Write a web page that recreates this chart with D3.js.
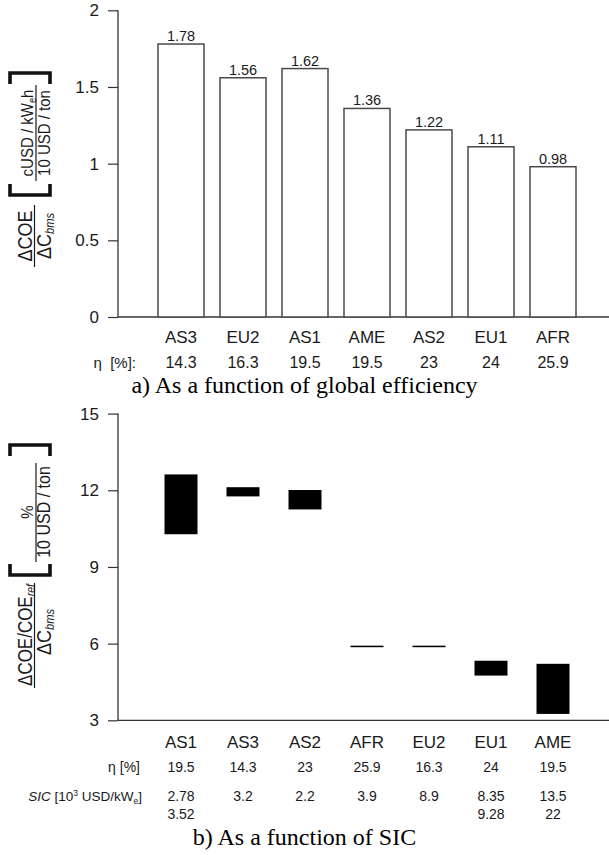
<!DOCTYPE html>
<html><head><meta charset="utf-8">
<script src="https://cdn.jsdelivr.net/npm/d3@7"></script>
<style>body{margin:0;background:#fff} svg{display:block}</style>
</head><body>
<script>
// ---- Data: chart a ----
const categoriesA = ["AS3", "EU2", "AS1", "AME", "AS2", "EU1", "AFR"];
const valuesA = [1.78, 1.56, 1.62, 1.36, 1.22, 1.11, 0.98];
const etaA = ["14.3", "16.3", "19.5", "19.5", "23", "24", "25.9"];
const ticksA = [0, 0.5, 1, 1.5, 2];
const minorTicksA = [0,0.1,0.2,0.3,0.4,0.5,0.6,0.7,0.8,0.9,1,1.1,1.2,1.3,1.4,1.5,1.6,1.7,1.8,1.9,2];
// ---- Data: chart b ----
const categoriesB = ["AS1", "AS3", "AS2", "AFR", "EU2", "EU1", "AME"];
const lowB = [10.28, 11.76, 11.25, 5.86, 5.86, 4.75, 3.25];
const highB = [12.62, 12.12, 12.01, 5.92, 5.92, 5.33, 5.21];
const etaB = ["19.5", "14.3", "23", "25.9", "16.3", "24", "19.5"];
const sicB1 = ["2.78", "3.2", "2.2", "3.9", "8.9", "8.35", "13.5"];
const sicB2 = ["3.52", "", "", "", "", "9.28", "22"];
const ticksB = [3, 6, 9, 12, 15];
const minorTicksB = [3,4,5,6,7,8,9,10,11,12,13,14,15];

const W = 609, H = 855;
const SANS = "'Liberation Sans', Arial, Helvetica, sans-serif";
const SERIF = "'Liberation Serif', 'Times New Roman', serif";
const TXT = "#1a1a1a", AX = "#333";
const svg = d3.select("body").append("svg").attr("width", W).attr("height", H)
  .style("font-family", SANS);

const axisX = 118, rightX = 609;

function drawYAxis(scale, major, minor, top, bottom) {
  const g = svg.append("g").attr("transform", `translate(${axisX},0)`);
  g.call(d3.axisLeft(scale).tickValues(minor).tickSize(5).tickFormat(""));
  g.call(d3.axisLeft(scale).tickValues(major).tickSize(10).tickPadding(9).tickFormat(d3.format("~g")));
  g.selectAll(".domain").remove();
  g.selectAll("line").attr("stroke", AX).attr("stroke-width", 1.2);
  g.selectAll("text").attr("font-family", SANS).attr("font-size", 17).attr("fill", TXT);
  g.attr("font-family", null).attr("font-size", null);
  svg.append("line").attr("x1", axisX).attr("x2", axisX).attr("y1", top).attr("y2", bottom)
    .attr("stroke", AX).attr("stroke-width", 1.3);
  svg.append("line").attr("x1", axisX).attr("x2", rightX).attr("y1", bottom).attr("y2", bottom)
    .attr("stroke", AX).attr("stroke-width", 1.3);
}

function rotText(x, y, size, parts) {
  const t = svg.append("text").attr("transform", `translate(${x},${y}) rotate(-90) scale(1,1.15)`)
    .attr("text-anchor", "middle").attr("font-size", size).attr("fill", TXT);
  parts.forEach(p => {
    const ts = t.append("tspan").text(p.t);
    if (p.sub) ts.attr("font-size", size * 0.62).attr("dy", 3);
    if (p.back) ts.attr("dy", -3);
    if (p.it) ts.attr("font-style", "italic");
  });
  return t;
}
function bracket(x0, x1, y, dir) {
  const s = 11 * dir;
  svg.append("path").attr("d", `M${x0},${y + s}L${x0},${y}L${x1},${y}L${x1},${y + s}`)
    .attr("fill", "none").attr("stroke", "#111").attr("stroke-width", 3.6);
}
function fracLine(x, y0, y1) {
  svg.append("line").attr("x1", x).attr("x2", x).attr("y1", y0).attr("y2", y1)
    .attr("stroke", TXT).attr("stroke-width", 1.2);
}

// ================= Chart a =================
const yA = d3.scaleLinear().domain([0, 2]).range([317, 10.3]);
const xA = d3.scaleBand().domain(categoriesA).range([150, 584]).paddingInner(0.258).paddingOuter(0.129);
drawYAxis(yA, ticksA, minorTicksA, yA(2), yA(0));

svg.append("g").selectAll("rect").data(valuesA).join("rect")
  .attr("x", (d, i) => xA(categoriesA[i]))
  .attr("y", d => yA(d))
  .attr("width", xA.bandwidth())
  .attr("height", d => yA(0) - yA(d))
  .attr("fill", "#fff").attr("stroke", "#4a4a4a").attr("stroke-width", 1.5);

svg.append("g").selectAll("text").data(valuesA).join("text")
  .attr("x", (d, i) => xA(categoriesA[i]) + xA.bandwidth() / 2)
  .attr("y", d => yA(d) - 3)
  .attr("text-anchor", "middle").attr("font-size", 14.5).attr("fill", TXT)
  .text(d => d3.format(".2f")(d));

svg.append("g").selectAll("text").data(categoriesA).join("text")
  .attr("x", d => xA(d) + xA.bandwidth() / 2).attr("y", 343)
  .attr("text-anchor", "middle").attr("font-size", 17).attr("fill", TXT).text(d => d);
svg.append("g").selectAll("text").data(etaA).join("text")
  .attr("x", (d, i) => xA(categoriesA[i]) + xA.bandwidth() / 2).attr("y", 368)
  .attr("text-anchor", "middle").attr("font-size", 16).attr("fill", TXT).text(d => d);
svg.append("text").attr("x", 136).attr("y", 368).attr("text-anchor", "end")
  .attr("font-size", 15).attr("fill", TXT).text("η\u00a0\u00a0[%]:");
svg.append("text").attr("x", 304.5).attr("y", 393).attr("text-anchor", "middle")
  .attr("font-family", SERIF).attr("font-size", 24).attr("fill", "#000")
  .text("a) As a function of global efficiency");

// y title a
rotText(32, 236, 18, [{t: "ΔCOE"}]);
fracLine(34.5, 205, 267);
rotText(51, 236, 18, [{t: "ΔC"}, {t: "bms", sub: true, it: true}]);
bracket(10, 50, 73, 1);
bracket(10, 50, 195, -1);
rotText(33, 133, 15, [{t: "cUSD / kW"}, {t: "e", sub: true}, {t: "h", back: true}]);
fracLine(36, 85, 181);
rotText(50, 133, 15, [{t: "10 USD / ton"}]);

// ================= Chart b =================
const yB = d3.scaleLinear().domain([3, 15]).range([720.3, 413.6]);
const xB = d3.scaleBand().domain(categoriesB).range([150, 584]).paddingInner(0.468).paddingOuter(0.234);
drawYAxis(yB, ticksB, minorTicksB, yB(15), yB(3));

svg.append("g").selectAll("rect").data(categoriesB).join("rect")
  .attr("x", d => xB(d))
  .attr("y", (d, i) => yB(highB[i]))
  .attr("width", xB.bandwidth())
  .attr("height", (d, i) => yB(lowB[i]) - yB(highB[i]))
  .attr("fill", "#000");

svg.append("g").selectAll("text").data(categoriesB).join("text")
  .attr("x", d => xB(d) + xB.bandwidth() / 2).attr("y", 748)
  .attr("text-anchor", "middle").attr("font-size", 17).attr("fill", TXT).text(d => d);
svg.append("g").selectAll("text").data(etaB).join("text")
  .attr("x", (d, i) => xB(categoriesB[i]) + xB.bandwidth() / 2).attr("y", 772)
  .attr("text-anchor", "middle").attr("font-size", 14).attr("fill", TXT).text(d => d);
svg.append("g").selectAll("text").data(sicB1).join("text")
  .attr("x", (d, i) => xB(categoriesB[i]) + xB.bandwidth() / 2).attr("y", 801)
  .attr("text-anchor", "middle").attr("font-size", 14).attr("fill", TXT).text(d => d);
svg.append("g").selectAll("text").data(sicB2).join("text")
  .attr("x", (d, i) => xB(categoriesB[i]) + xB.bandwidth() / 2).attr("y", 819)
  .attr("text-anchor", "middle").attr("font-size", 14).attr("fill", TXT).text(d => d);

svg.append("text").attr("x", 140).attr("y", 772).attr("text-anchor", "end")
  .attr("font-size", 14).attr("fill", TXT).text("η [%]");
const sicLbl = svg.append("text").attr("x", 142).attr("y", 801).attr("text-anchor", "end")
  .attr("font-size", 13.5).attr("fill", TXT);
sicLbl.append("tspan").attr("font-style", "italic").text("SIC");
sicLbl.append("tspan").text(" [10");
sicLbl.append("tspan").attr("font-size", 8.5).attr("dy", -5).text("3");
sicLbl.append("tspan").attr("dy", 5).text(" USD/kW");
sicLbl.append("tspan").attr("font-size", 8.5).attr("dy", 3).text("e");
sicLbl.append("tspan").attr("dy", -3).text("]");

svg.append("text").attr("x", 304.5).attr("y", 845).attr("text-anchor", "middle")
  .attr("font-family", SERIF).attr("font-size", 24).attr("fill", "#000")
  .text("b) As a function of SIC");

// y title b
rotText(32, 635, 17, [{t: "ΔCOE/COE"}, {t: "ref", sub: true, it: true}]);
fracLine(34.5, 583, 688);
rotText(51, 632, 18, [{t: "ΔC"}, {t: "bms", sub: true, it: true}]);
bracket(10, 50, 445, 1);
bracket(10, 50, 575, -1);
rotText(33, 512, 15, [{t: "%"}]);
fracLine(36, 463, 562);
rotText(50, 512, 16, [{t: "10 USD / ton"}]);
</script>
</body></html>
